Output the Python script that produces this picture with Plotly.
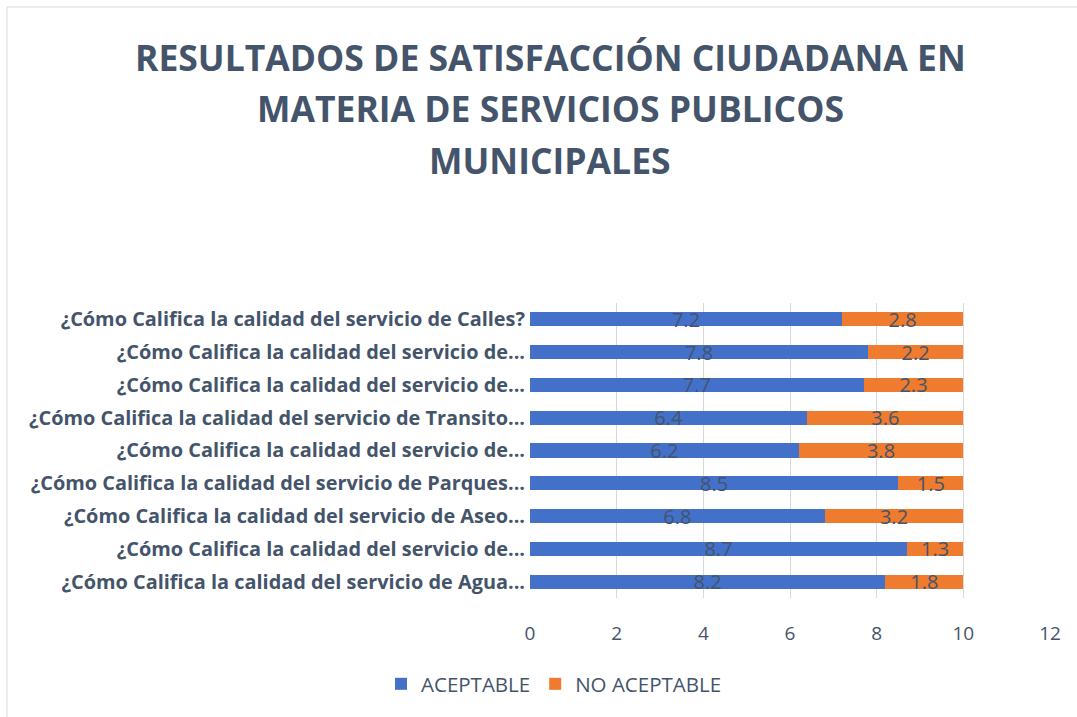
import plotly.graph_objects as go

categories = [
    "¿Cómo Califica la calidad del servicio de Agua...",
    "¿Cómo Califica la calidad del servicio de...",
    "¿Cómo Califica la calidad del servicio de Aseo...",
    "¿Cómo Califica la calidad del servicio de Parques...",
    "¿Cómo Califica la calidad del servicio de...",
    "¿Cómo Califica la calidad del servicio de Transito...",
    "¿Cómo Califica la calidad del servicio de...",
    "¿Cómo Califica la calidad del servicio de...",
    "¿Cómo Califica la calidad del servicio de Calles?",
]
aceptable = [8.2, 8.7, 6.8, 8.5, 6.2, 6.4, 7.7, 7.8, 7.2]
no_aceptable = [1.8, 1.3, 3.2, 1.5, 3.8, 3.6, 2.3, 2.2, 2.8]
x_ticks = [0, 2, 4, 6, 8, 10, 12]
title_lines = [
    "RESULTADOS DE SATISFACCIÓN CIUDADANA EN",
    "MATERIA DE SERVICIOS PUBLICOS",
    "MUNICIPALES",
]

W, H = 1077, 717
L, R, T, B = 530, 27, 303, 119
PH = H - T - B
PW = W - L - R

def py(ypix):
    return (H - B - ypix) / PH

def px(xpix):
    return (xpix - L) / PW

TXT = "#44546A"
FONT = "Open Sans, sans-serif"

pos = list(range(len(categories)))

fig = go.Figure()
fig.add_trace(go.Bar(
    y=pos, x=aceptable, orientation="h", name="ACEPTABLE",
    marker=dict(color="#4371CA", line=dict(width=0)),
    text=[f"{v:g}" for v in aceptable], textposition="inside",
    insidetextanchor="middle", constraintext="none",
    textfont=dict(color=TXT, size=20, family=FONT),
))
fig.add_trace(go.Bar(
    y=pos, x=no_aceptable, orientation="h", name="NO ACEPTABLE",
    marker=dict(color="#EE7B2E", line=dict(width=0)),
    text=[f"{v:g}" for v in no_aceptable], textposition="inside",
    insidetextanchor="middle", constraintext="none",
    textfont=dict(color=TXT, size=20, family=FONT),
))

annotations = []
for ln, yc in zip(title_lines, [57, 108, 160]):
    annotations.append(dict(
        text=f"<b>{ln}</b>", xref="paper", yref="paper",
        x=px(550), y=py(yc), xanchor="center", yanchor="middle",
        showarrow=False, font=dict(size=35.5, color=TXT, family=FONT),
    ))

fig.update_layout(
    width=W, height=H,
    margin=dict(l=L, r=R, t=T, b=B, autoexpand=False),
    paper_bgcolor="white", plot_bgcolor="white",
    barmode="stack", bargap=0.57,
    font=dict(family=FONT, color=TXT),
    showlegend=True,
    legend=dict(
        orientation="h", xref="container", yref="container",
        x=554 / W, y=1 - 684 / H, xanchor="center", yanchor="middle",
        font=dict(size=20.5, color=TXT, family=FONT),
        traceorder="normal", itemwidth=30,
    ),
    annotations=annotations,
    shapes=[dict(type="rect", xref="paper", yref="paper",
                 x0=px(7), y0=py(H + 20), x1=px(W + 20), y1=py(7),
                 line=dict(color="#D9D9D9", width=1), fillcolor="rgba(0,0,0,0)",
                 layer="below")],
)
fig.update_xaxes(
    range=[0, 12], tickvals=x_ticks, showgrid=True, gridcolor="#D9D9D9",
    gridwidth=1, zeroline=False, showline=False, ticks="",
    tickfont=dict(size=19, color=TXT, family=FONT), ticklabelstandoff=22,
    fixedrange=True,
)
fig.update_yaxes(
    range=[-0.5, len(categories) - 0.5], tickvals=pos,
    ticktext=[f"<b>{c}</b>" for c in categories],
    showgrid=False, zeroline=False, showline=False, ticks="",
    tickfont=dict(size=19.9, color=TXT, family=FONT), ticklabelstandoff=4,
    fixedrange=True,
)

fig.write_html(
    "out.html",
    config={"displayModeBar": False},
    post_script="document.body.style.margin='0';document.body.style.overflow='hidden';",
)
